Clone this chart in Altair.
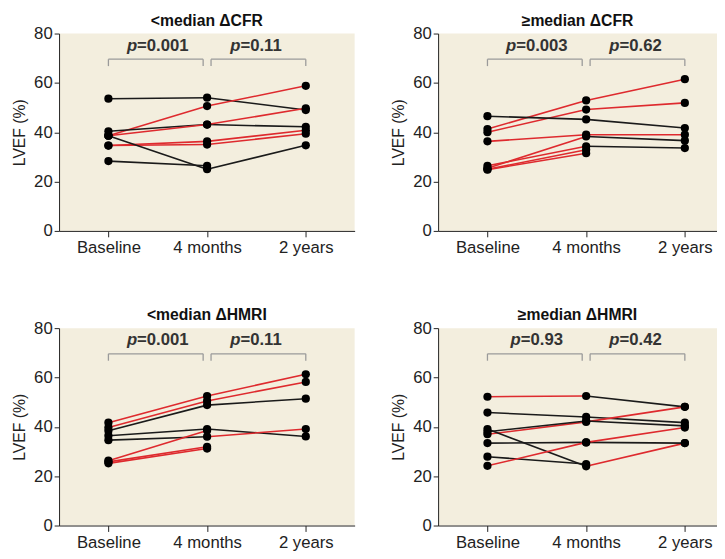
import altair as alt
import pandas as pd

# ---------------- data ----------------
times = ["Baseline", "4 months", "2 years"]

titles = ["<median \u0394CFR", "\u2265median \u0394CFR", "<median \u0394HMRI", "\u2265median \u0394HMRI"]

p_values = [["0.001", "0.11"], ["0.003", "0.62"], ["0.001", "0.11"], ["0.93", "0.42"]]

# LVEF (%) per patient at Baseline, 4 months, 2 years (None = not shown)
cfr_low = [
    [53.6, 54.0, 49.0],
    [38.6, 50.6, 58.8],
    [40.4, 43.1, 42.2],
    [38.6, 43.1, 49.7],
    [34.6, 36.3, 40.8],
    [34.6, 35.0, 39.4],
    [38.6, 25.0, 34.7],
    [28.3, 26.4, None],
]
cfr_low_col = [["k", "k"], ["r", "r"], ["k", "k"], ["r", "r"], ["r", "r"], ["r", "r"], ["k", "k"], ["k", "k"]]

cfr_high = [
    [41.3, 52.9, 61.5],
    [40.0, 49.2, 51.9],
    [46.5, 45.2, 41.7],
    [36.3, 39.0, 39.0],
    [25.4, 38.3, 36.6],
    [26.4, 34.3, 33.6],
    [25.0, 32.9, None],
    [24.8, 31.5, None],
]
cfr_high_col = [["r", "r"], ["r", "r"], ["k", "k"], ["r", "r"], ["r", "k"], ["r", "k"], ["r", "k"], ["r", "k"]]

hmri_low = [
    [41.7, 52.5, 61.3],
    [39.7, 50.5, 58.2],
    [38.4, 48.8, 51.4],
    [36.4, 39.1, 36.1],
    [34.6, 36.0, 39.1],
    [26.3, 38.5, None],
    [25.8, 31.9, None],
    [25.2, 31.2, None],
]
hmri_low_col = [["r", "r"], ["r", "r"], ["k", "k"], ["k", "k"], ["k", "r"], ["r", "r"], ["r", "r"], ["r", "r"]]

hmri_high = [
    [52.2, 52.5, 48.1],
    [45.8, 44.0, 41.7],
    [37.0, 42.0, 48.1],
    [39.1, 24.0, 33.4],
    [33.4, 33.7, 33.4],
    [27.9, 24.9, None],
    [24.2, 33.7, 39.7],
    [38.0, 42.4, 40.4],
]
hmri_high_col = [["r", "k"], ["k", "k"], ["r", "r"], ["k", "r"], ["k", "k"], ["k", "k"], ["r", "r"], ["k", "k"]]

panels = [
    (cfr_low, cfr_low_col),
    (cfr_high, cfr_high_col),
    (hmri_low, hmri_low_col),
    (hmri_high, hmri_high_col),
]

# ---------------- style ----------------
FONT = "Liberation Sans, Arial, sans-serif"
BG = "#F3EEDE"
RED = "#DE2A2E"
PX_PER_UNIT = 100.5
W_LEFT, W_RIGHT, H = 301, 284, 201
PFS = 17  # p-value font size
# approximate Arial-bold glyph widths (em)
GW = {"p": 0.611, "=": 0.584, ".": 0.278}

y_scale = alt.Scale(domain=[0, 80], nice=False)

x_axis = alt.Axis(values=[0, 1, 2], labelExpr="['Baseline','4 months','2 years'][datum.value]",
                  title=None, grid=False, tickSize=6, labelFontSize=17, labelPadding=3,
                  domainColor="#222", tickColor="#222", labelColor="#222", labelFont=FONT)
y_axis = alt.Axis(values=[0, 20, 40, 60, 80], title="LVEF (%)", grid=False, tickSize=5,
                  labelFontSize=17, labelPadding=2, titleFontSize=16, titleFontWeight="normal",
                  titlePadding=6, domainColor="#222", tickColor="#222", labelColor="#222",
                  titleColor="#222", labelFont=FONT, titleFont=FONT)


def text_w(s):
    return sum(GW.get(ch, 0.556) for ch in s) * PFS


def make_panel(idx, width):
    x_scale = alt.Scale(domain=[-0.5, -0.5 + width / PX_PER_UNIT], nice=False, zero=False)
    vals, cols = panels[idx]
    seg_rows, pt_rows = [], []
    for i, (v, c) in enumerate(zip(vals, cols)):
        for t, val in enumerate(v):
            if val is not None:
                pt_rows.append({"t": t, "v": val})
        for s in range(2):
            if v[s] is not None and v[s + 1] is not None:
                sid = f"{i}_{s}"
                seg_rows.append({"sid": sid, "t": s, "v": v[s], "c": c[s]})
                seg_rows.append({"sid": sid, "t": s + 1, "v": v[s + 1], "c": c[s]})
    seg = pd.DataFrame(seg_rows)
    pts = pd.DataFrame(pt_rows)

    lines = alt.Chart(seg).mark_line(strokeWidth=1.6).encode(
        x=alt.X("t:Q", scale=x_scale, axis=x_axis),
        y=alt.Y("v:Q", scale=y_scale, axis=y_axis),
        detail="sid:N",
        color=alt.Color("c:N", scale=alt.Scale(domain=["k", "r"], range=["#1a1a1a", RED]), legend=None),
        order="c:N",
    )
    dots = alt.Chart(pts).mark_circle(size=70, opacity=1, color="#000").encode(
        x=alt.X("t:Q", scale=x_scale), y=alt.Y("v:Q", scale=y_scale))

    # brackets
    br = pd.DataFrame({"x1": [0.0, 1.04], "x2": [0.96, 2.0]})
    horiz = alt.Chart(br).mark_rule(color="#9a9a9a", strokeWidth=1.3).encode(
        x=alt.X("x1:Q", scale=x_scale), x2="x2:Q", y=alt.datum(69.6))
    legs = pd.DataFrame({"x": [0.0, 0.96, 1.04, 2.0]})
    vert = alt.Chart(legs).mark_rule(color="#9a9a9a", strokeWidth=1.3).encode(
        x=alt.X("x:Q", scale=x_scale), y=alt.datum(69.6), y2=alt.datum(66.8))

    # p-value texts: italic "p" + "=value"
    prow = []
    for k, pv in enumerate(p_values[idx]):
        mid = k + 0.5
        rest = "=" + pv
        w_p, w_rest = text_w("p"), text_w(rest)
        split = mid + (w_p - w_rest) / 2.0 / PX_PER_UNIT
        prow.append({"xs": split, "rest": rest, "p": "p"})
    pdf = pd.DataFrame(prow)
    ptxt = alt.Chart(pdf).mark_text(font=FONT, fontSize=PFS, fontWeight="bold", fontStyle="italic",
                                    align="right", baseline="middle", color="#333", dx=0).encode(
        x=alt.X("xs:Q", scale=x_scale), y=alt.datum(75), text="p:N")
    rtxt = alt.Chart(pdf).mark_text(font=FONT, fontSize=PFS, fontWeight="bold",
                                    align="left", baseline="middle", color="#333").encode(
        x=alt.X("xs:Q", scale=x_scale), y=alt.datum(75), text="rest:N")

    return alt.layer(horiz, vert, lines, dots, ptxt, rtxt).properties(
        width=width, height=H,
        title=alt.TitleParams(titles[idx], fontSize=16, fontWeight="bold", font=FONT,
                              color="#111", offset=-4, anchor="middle"),
    )


top = alt.hconcat(make_panel(0, W_LEFT), make_panel(1, W_RIGHT), spacing=37)
bottom = alt.hconcat(make_panel(2, W_LEFT), make_panel(3, W_RIGHT), spacing=37)
chart = alt.vconcat(top, bottom, spacing=53).properties(
    padding={"left": 4, "top": 0, "right": 0, "bottom": 0}
).configure_view(fill=BG, stroke=None)

chart.save("out.html", embed_options={"renderer": "svg", "actions": False})
